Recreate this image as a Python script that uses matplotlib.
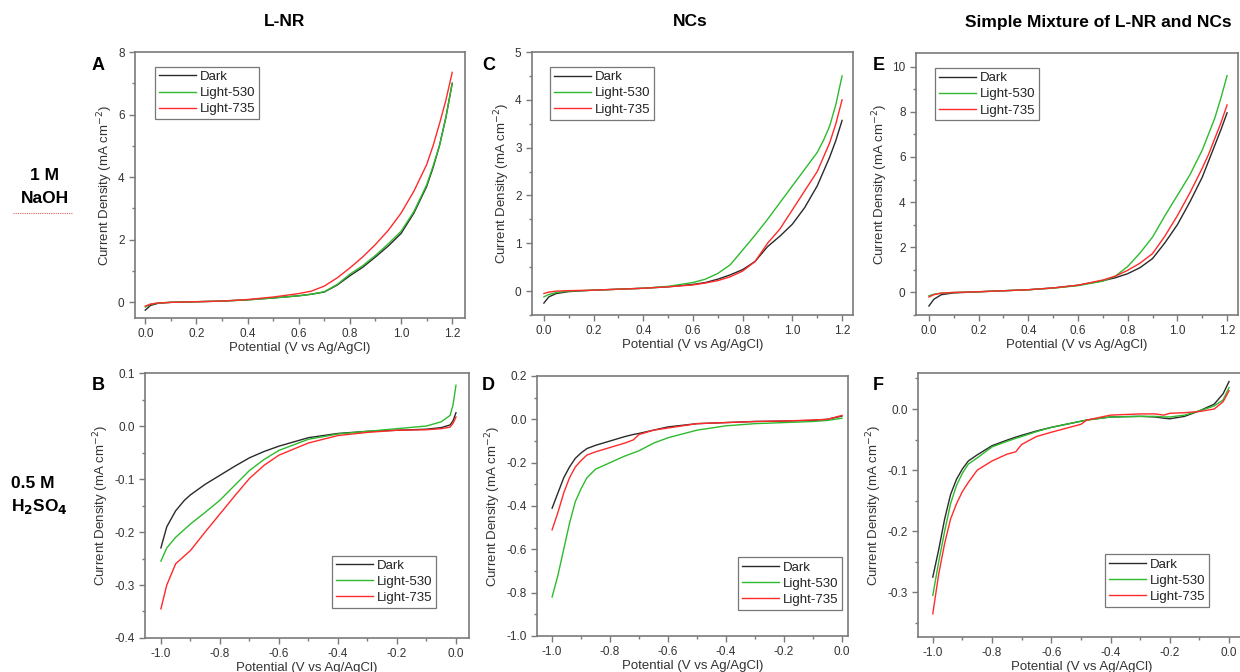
import matplotlib
matplotlib.use('Agg')
import matplotlib.pyplot as plt
from matplotlib.ticker import MultipleLocator, FormatStrFormatter

plt.rcParams['font.family'] = ['Liberation Sans', 'DejaVu Sans']
plt.rcParams['axes.unicode_minus'] = False

# ---- data ----
labels = ['Dark', 'Light-530', 'Light-735']
colors = ['#2a2a2a', '#2dbb2d', '#ff2a2a']
col_titles = ['L-NR', 'NCs', 'Simple Mixture of L-NR and NCs']

# A: L-NR, 1 M NaOH
xA = [0, 0.02, 0.05, 0.1, 0.2, 0.3, 0.4, 0.5, 0.6, 0.65, 0.7, 0.75, 0.8, 0.85, 0.9, 0.95, 1.0, 1.05, 1.1, 1.125, 1.15, 1.175, 1.2]
A_dark = [-0.25, -0.1, -0.03, 0.0, 0.02, 0.04, 0.08, 0.14, 0.21, 0.26, 0.33, 0.55, 0.85, 1.12, 1.45, 1.8, 2.2, 2.85, 3.7, 4.3, 5.0, 5.9, 7.0]
A_530 = [-0.15, -0.06, -0.02, 0.0, 0.02, 0.04, 0.08, 0.14, 0.21, 0.26, 0.34, 0.57, 0.9, 1.17, 1.5, 1.87, 2.27, 2.9, 3.75, 4.35, 5.0, 5.9, 7.0]
A_735 = [-0.12, -0.06, -0.02, 0.0, 0.02, 0.04, 0.09, 0.17, 0.28, 0.36, 0.52, 0.78, 1.1, 1.45, 1.85, 2.3, 2.85, 3.55, 4.4, 5.0, 5.7, 6.45, 7.35]

# B: L-NR, 0.5 M H2SO4
xB = [-1.0, -0.98, -0.95, -0.92, -0.9, -0.85, -0.8, -0.75, -0.7, -0.65, -0.6, -0.5, -0.4, -0.3, -0.2, -0.1, -0.05, -0.02, -0.01, 0.0]
B_dark = [-0.23, -0.19, -0.16, -0.14, -0.13, -0.11, -0.093, -0.076, -0.06, -0.048, -0.038, -0.022, -0.014, -0.01, -0.008, -0.006, -0.003, 0.002, 0.01, 0.025]
B_530 = [-0.255, -0.23, -0.21, -0.195, -0.185, -0.163, -0.14, -0.112, -0.084, -0.063, -0.046, -0.025, -0.015, -0.01, -0.005, 0.0, 0.008, 0.02, 0.04, 0.077]
B_735 = [-0.345, -0.3, -0.26, -0.245, -0.235, -0.2, -0.166, -0.132, -0.099, -0.074, -0.055, -0.032, -0.018, -0.012, -0.008, -0.007, -0.005, -0.002, 0.005, 0.017]

# C: NCs, 1 M NaOH
xC = [0, 0.02, 0.05, 0.1, 0.2, 0.4, 0.5, 0.6, 0.65, 0.7, 0.75, 0.8, 0.85, 0.9, 0.95, 1.0, 1.05, 1.1, 1.125, 1.15, 1.175, 1.2]
C_dark = [-0.25, -0.12, -0.05, -0.01, 0.02, 0.06, 0.09, 0.14, 0.18, 0.25, 0.34, 0.45, 0.62, 0.93, 1.15, 1.4, 1.75, 2.2, 2.5, 2.8, 3.15, 3.57]
C_530 = [-0.12, -0.07, -0.03, 0.0, 0.02, 0.06, 0.1, 0.18, 0.25, 0.37, 0.55, 0.86, 1.17, 1.5, 1.85, 2.2, 2.55, 2.9, 3.15, 3.45, 3.9, 4.5]
C_735 = [-0.05, -0.02, 0.0, 0.01, 0.02, 0.06, 0.09, 0.13, 0.17, 0.22, 0.3, 0.42, 0.62, 1.0, 1.3, 1.7, 2.1, 2.5, 2.8, 3.1, 3.5, 4.0]

# D: NCs, 0.5 M H2SO4
xD = [-1.0, -0.98, -0.96, -0.94, -0.92, -0.9, -0.88, -0.85, -0.8, -0.75, -0.72, -0.7, -0.65, -0.6, -0.5, -0.4, -0.3, -0.2, -0.1, -0.05, 0.0]
D_dark = [-0.41, -0.34, -0.27, -0.22, -0.18, -0.155, -0.135, -0.12, -0.1, -0.08, -0.07, -0.065, -0.05, -0.035, -0.02, -0.015, -0.01, -0.008, -0.005, 0.0, 0.015]
D_530 = [-0.82, -0.72, -0.6, -0.48, -0.38, -0.32, -0.27, -0.23, -0.2, -0.17, -0.155, -0.145, -0.11, -0.085, -0.05, -0.03, -0.02, -0.015, -0.01, -0.005, 0.005]
D_735 = [-0.51, -0.43, -0.34, -0.27, -0.22, -0.19, -0.165, -0.15, -0.13, -0.11, -0.095, -0.07, -0.05, -0.04, -0.02, -0.015, -0.01, -0.008, -0.003, 0.0, 0.018]

# E: mixture, 1 M NaOH
xE = [0, 0.02, 0.05, 0.1, 0.2, 0.4, 0.5, 0.6, 0.7, 0.75, 0.8, 0.85, 0.9, 0.95, 1.0, 1.05, 1.1, 1.125, 1.15, 1.175, 1.2]
E_dark = [-0.6, -0.3, -0.1, -0.02, 0.03, 0.12, 0.2, 0.32, 0.52, 0.65, 0.83, 1.1, 1.5, 2.2, 3.0, 4.0, 5.1, 5.8, 6.5, 7.2, 7.95]
E_530 = [-0.15, -0.08, -0.03, 0.0, 0.03, 0.12, 0.19, 0.3, 0.5, 0.72, 1.15, 1.75, 2.45, 3.4, 4.3, 5.2, 6.3, 7.0, 7.7, 8.6, 9.6]
E_735 = [-0.2, -0.1, -0.03, 0.0, 0.03, 0.12, 0.2, 0.32, 0.55, 0.72, 0.98, 1.3, 1.72, 2.5, 3.4, 4.4, 5.5, 6.1, 6.8, 7.5, 8.3]

# F: mixture, 0.5 M H2SO4
xF = [-1.0, -0.98, -0.96, -0.94, -0.92, -0.9, -0.88, -0.85, -0.8, -0.75, -0.72, -0.7, -0.65, -0.6, -0.5, -0.48, -0.4, -0.3, -0.25, -0.22, -0.2, -0.15, -0.1, -0.05, -0.02, 0.0]
F_dark = [-0.275, -0.23, -0.18, -0.14, -0.115, -0.098, -0.085, -0.075, -0.06, -0.051, -0.046, -0.043, -0.036, -0.03, -0.02, -0.018, -0.013, -0.012, -0.013, -0.015, -0.016, -0.012, -0.003, 0.008, 0.025, 0.045]
F_530 = [-0.305, -0.25, -0.2, -0.155, -0.125, -0.105, -0.09, -0.08, -0.062, -0.053, -0.048, -0.045, -0.037, -0.03, -0.02, -0.018, -0.013, -0.012, -0.012, -0.013, -0.013, -0.01, -0.003, 0.005, 0.015, 0.035]
F_735 = [-0.335, -0.27, -0.22, -0.18, -0.155, -0.135, -0.12, -0.1, -0.085, -0.074, -0.07, -0.058, -0.045, -0.038, -0.025, -0.018, -0.01, -0.008, -0.008, -0.01, -0.007, -0.006, -0.004, 0.0, 0.012, 0.03]

panels = [
    # letter, x, series, rect, xlim, ylim, ymajor, legend loc, legend anchor
    ('A', xA, [A_dark, A_530, A_735], [0.1089, 0.5268, 0.2661, 0.3958], (-0.04, 1.25), (-0.5, 8), 2, 'upper left', (0.06, 0.944)),
    ('B', xB, [B_dark, B_530, B_735], [0.1169, 0.0506, 0.2613, 0.3943], (-1.054, 0.044), (-0.4, 0.1), 0.1, 'lower left', (0.577, 0.113)),
    ('C', xC, [C_dark, C_530, C_735], [0.4290, 0.5312, 0.2589, 0.3914], (-0.048, 1.244), (-0.5, 5), 1, 'upper left', (0.056, 0.943)),
    ('D', xD, [D_dark, D_530, D_735], [0.4331, 0.0536, 0.2508, 0.3869], (-1.052, 0.021), (-1.0, 0.2), 0.2, 'lower left', (0.646, 0.10)),
    ('E', xE, [E_dark, E_530, E_735], [0.7387, 0.5312, 0.2597, 0.3899], (-0.052, 1.244), (-1.0, 10.6), 2, 'upper left', (0.059, 0.943)),
    ('F', xF, [F_dark, F_530, F_735], [0.7403, 0.0521, 0.2640, 0.3929], (-1.05, 0.055), (-0.373, 0.059), 0.1, 'lower left', (0.571, 0.114)),
]

fig = plt.figure(figsize=(12.4, 6.72), dpi=100)

for letter, x, series, rect, xlim, ylim, ymaj, lloc, lanchor in panels:
    ax = fig.add_axes(rect)
    for y, lab, c in zip(series, labels, colors):
        ax.plot(x, y, color=c, lw=1.0, label=lab)
    ax.set_xlim(*xlim)
    ax.set_ylim(*ylim)
    ax.xaxis.set_major_locator(MultipleLocator(0.2))
    ax.xaxis.set_minor_locator(MultipleLocator(0.1))
    ax.yaxis.set_major_locator(MultipleLocator(ymaj))
    ax.yaxis.set_minor_locator(MultipleLocator(ymaj / 2))
    if ymaj >= 1:
        ax.yaxis.set_major_formatter(FormatStrFormatter('%d'))
    else:
        ax.yaxis.set_major_formatter(FormatStrFormatter('%.1f'))
    ax.xaxis.set_major_formatter(FormatStrFormatter('%.1f'))
    for s in ax.spines.values():
        s.set_color('#7a7a7a')
        s.set_linewidth(1.2)
    ax.tick_params(which='both', direction='out', top=False, right=False,
                   color='#7a7a7a', labelcolor='#333333', labelsize=8.5)
    ax.tick_params(which='major', length=4, width=1)
    ax.tick_params(which='minor', length=2.5, width=1)
    ax.set_xlabel('Potential (V vs Ag/AgCl)', fontsize=9.5, color='#333333', labelpad=1)
    ax.set_ylabel('Current Density (mA cm$^{-2}$)', fontsize=9.5, color='#333333', labelpad=2)
    leg = ax.legend(loc=lloc, bbox_to_anchor=lanchor, fontsize=9.5, frameon=True,
                    fancybox=False, edgecolor='#555555', handlelength=2.8,
                    handletextpad=0.3, borderpad=0.3, labelspacing=0.3, borderaxespad=0)
    leg.get_frame().set_linewidth(0.9)
    for t in leg.get_texts():
        t.set_color('#222222')

# panel letters
letter_pos = {'A': (92, 66), 'B': (92, 385), 'C': (482, 66), 'D': (482, 385), 'E': (873, 66), 'F': (873, 385)}
for k, (px, py) in letter_pos.items():
    fig.text(px / 1240, 1 - py / 672, k, fontsize=13, fontweight='bold', ha='left', va='center')

# column titles
for t, px in zip(col_titles, [285, 690, 1098]):
    fig.text(px / 1240, 1 - 22 / 672, t, fontsize=12.5, fontweight='bold', ha='center', va='center')

# row labels
fig.text(45 / 1240, 1 - 176 / 672, '1 M', fontsize=12.5, fontweight='bold', ha='center', va='center')
fig.text(45 / 1240, 1 - 199 / 672, 'NaOH', fontsize=12.5, fontweight='bold', ha='center', va='center')
fig.add_artist(plt.Line2D([13 / 1240, 73 / 1240], [1 - 213 / 672, 1 - 213 / 672],
                          color='#e06060', lw=0.8, ls=(0, (1, 1))))
fig.text(11 / 1240, 1 - 483 / 672, '0.5 M', fontsize=12.5, fontweight='bold', ha='left', va='center')
fig.text(11 / 1240, 1 - 507 / 672, 'H$_\\mathbf{2}$SO$_\\mathbf{4}$', fontsize=12.5, fontweight='bold',
         ha='left', va='center')

fig.savefig('out.png', dpi=100)
